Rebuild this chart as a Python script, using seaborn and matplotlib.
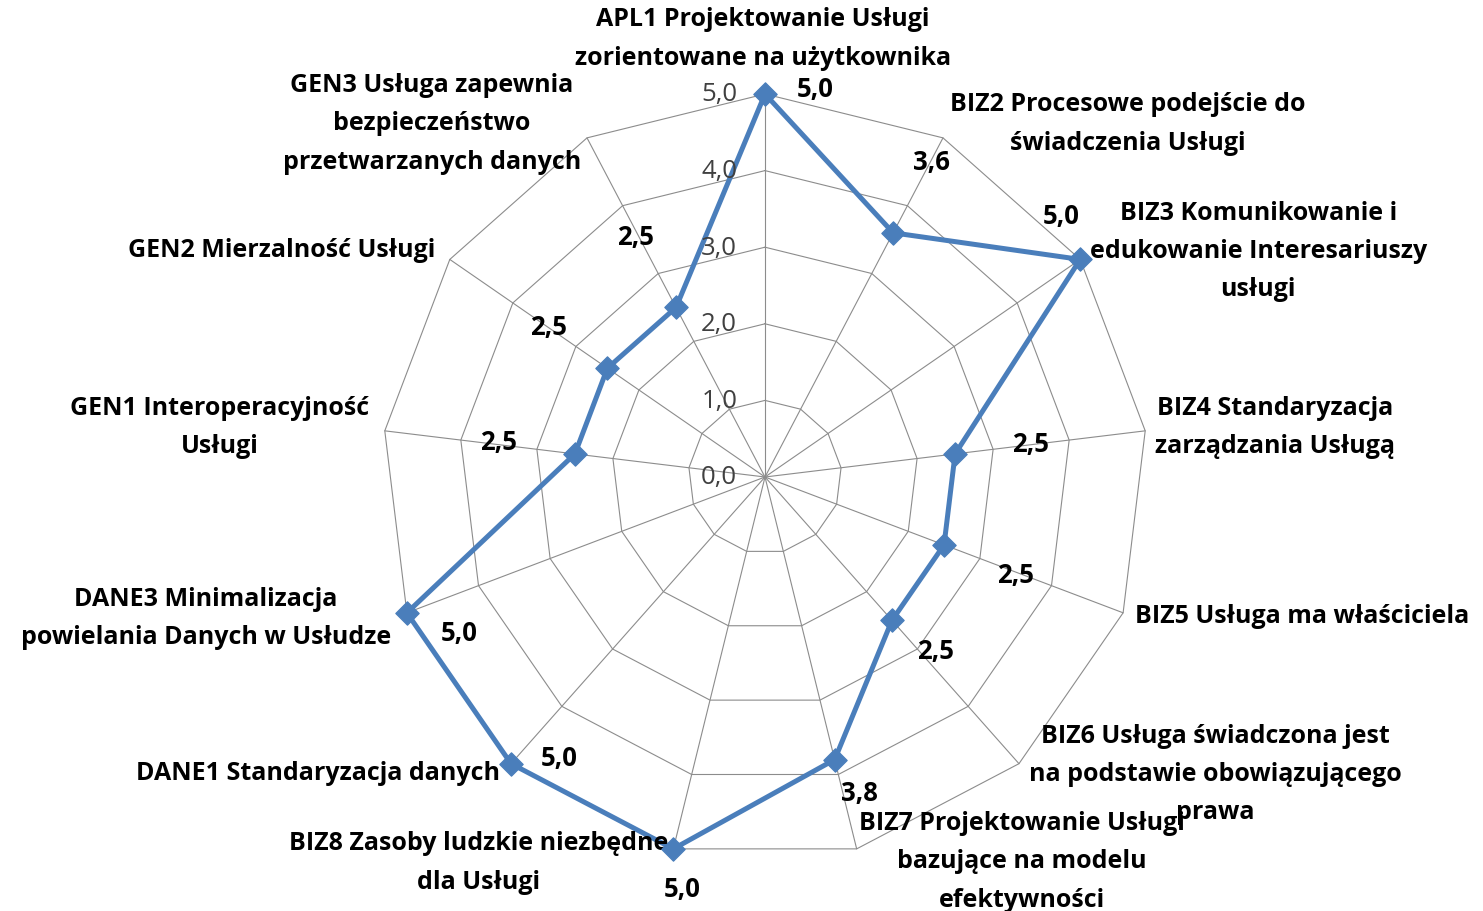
import numpy as np
import pandas as pd
import matplotlib
matplotlib.use("Agg")
import matplotlib.pyplot as plt
import seaborn as sns

# categories clockwise from the top
categories = [
    "APL1 Projektowanie Usługi\nzorientowane na użytkownika",
    "BIZ2 Procesowe podejście do\nświadczenia Usługi",
    "BIZ3 Komunikowanie i\nedukowanie Interesariuszy\nusługi",
    "BIZ4 Standaryzacja\nzarządzania Usługą",
    "BIZ5 Usługa ma właściciela",
    "BIZ6 Usługa świadczona jest\nna podstawie obowiązującego\nprawa",
    "BIZ7 Projektowanie Usługi\nbazujące na modelu\nefektywności",
    "BIZ8 Zasoby ludzkie niezbędne\ndla Usługi",
    "DANE1 Standaryzacja danych",
    "DANE3 Minimalizacja\npowielania Danych w Usłudze",
    "GEN1 Interoperacyjność\nUsługi",
    "GEN2 Mierzalność Usługi",
    "GEN3 Usługa zapewnia\nbezpieczeństwo\nprzetwarzanych danych",
]
scores = [5.0, 3.6, 5.0, 2.5, 2.5, 2.5, 3.8, 5.0, 5.0, 5.0, 2.5, 2.5, 2.5]
grid_levels = [0, 1, 2, 3, 4, 5]

# label placement (pixel offsets right/down)
cat_offsets = [(-2, -56), (185, -15), (178, -9), (130, -4), (179, 3), (196, 10),
               (165, 12), (-195, 13), (-193, 9), (-201, 5), (-165, -4), (-168, -10),
               (-155, -15)]
val_offsets = [(50, -5), (38, -71), (-19, -44), (75, -10), (71, 30), (44, 30),
               (25, 33), (9, 40), (48, -6), (52, 20), (-76, -12), (-59, -42),
               (-40, -71)]

sns.set_style("white")
plt.rcParams["font.family"] = ["Open Sans", "DejaVu Sans"]

W, H = 1483, 912
cx, cy = 765, 478
unit = 383 / 5.0

fig = plt.figure(figsize=(W / 100, H / 100), dpi=100)
ax = fig.add_axes([0, 0, 1, 1])
ax.set_xlim(-cx / unit, (W - cx) / unit)
ax.set_ylim(-(H - cy) / unit, cy / unit)
ax.axis("off")

n = len(categories)
theta = 2 * np.pi * np.arange(n) / n
rmax = max(grid_levels)

grid_col = "#8c8c8c"
for lv in grid_levels[1:]:
    gx = np.append(lv * np.sin(theta), lv * np.sin(theta[0]))
    gy = np.append(lv * np.cos(theta), lv * np.cos(theta[0]))
    ax.plot(gx, gy, color=grid_col, lw=0.8, zorder=1)
for t in theta:
    ax.plot([0, rmax * np.sin(t)], [0, rmax * np.cos(t)], color=grid_col, lw=0.8, zorder=1)

df = pd.DataFrame({"cat": categories, "score": scores})
df["x"] = df["score"] * np.sin(theta)
df["y"] = df["score"] * np.cos(theta)
closed = pd.concat([df, df.iloc[[0]]], ignore_index=True)

blue = "#4a7ebb"
sns.lineplot(data=closed, x="x", y="y", sort=False, estimator=None, color=blue,
             lw=3.6, ax=ax, zorder=3)
sns.scatterplot(data=df, x="x", y="y", marker="D", s=140, color=blue,
                edgecolor=blue, ax=ax, zorder=4)
ax.set_xlabel("")
ax.set_ylabel("")

# radial axis labels
for lv in grid_levels:
    ax.annotate(f"{lv:.1f}".replace(".", ","), xy=(0, lv), xytext=(-20, 0),
                textcoords="offset points", ha="right", va="center",
                fontsize=18.5, color="#404040")

# value labels
for i, row in df.iterrows():
    dx, dy = val_offsets[i]
    ax.annotate(f"{row['score']:.1f}".replace(".", ","), xy=(row["x"], row["y"]),
                xytext=(dx * 0.72, -dy * 0.72), textcoords="offset points",
                ha="center", va="center", fontsize=18.5, fontweight="bold", color="black")

# category labels
for i, t in enumerate(theta):
    dx, dy = cat_offsets[i]
    ax.annotate(categories[i], xy=(rmax * np.sin(t), rmax * np.cos(t)),
                xytext=(dx * 0.72, -dy * 0.72), textcoords="offset points",
                ha="center", va="center", multialignment="center",
                fontsize=18, fontweight="bold", color="black", linespacing=1.7)

fig.savefig("out.png", dpi=100)
